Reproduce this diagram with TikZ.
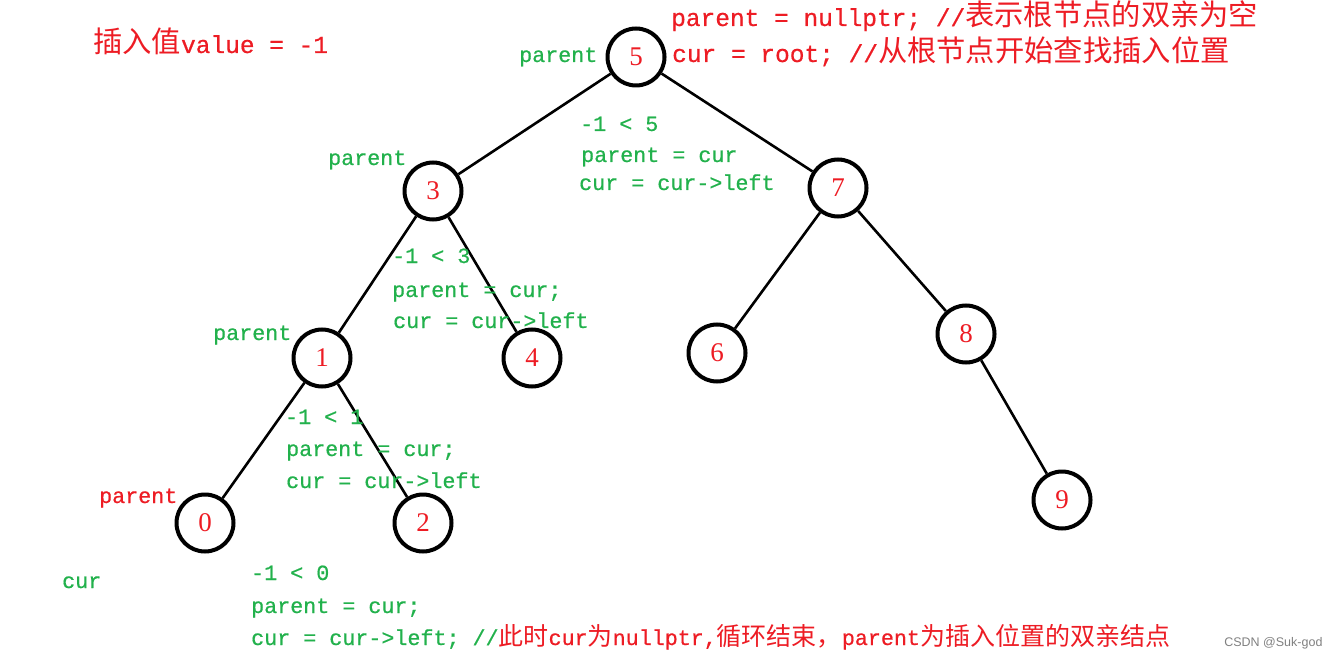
\documentclass[tikz,border=0pt]{standalone}
\usepackage{fontspec}
\setmainfont{Liberation Serif}
\newfontfamily\code[FakeBold=0.6]{Liberation Mono}
\newfontfamily\cjk{Noto Sans CJK SC}
\newfontfamily\wmark{Liberation Sans}
\definecolor{pred}{RGB}{237,28,36}
\definecolor{pgreen}{RGB}{34,177,76}
\newcommand{\zhbig}[1]{{\cjk\fontsize{29.3}{29.3}\selectfont #1}}
\newcommand{\zh}[1]{{\cjk\fontsize{25}{25}\selectfont #1}}

\begin{document}
\begin{tikzpicture}[x=1pt, y=-1pt, every edge/.style={draw, line width=2.6pt}]
        \tikzstyle{bstnode}=[circle, draw=black, line width=4pt, minimum size=57pt, inner sep=0pt, text=pred, font=\fontsize{27}{27}\selectfont]
        \tikzstyle{redtxt}=[anchor=base west, inner sep=0pt, text=pred, font=\code\fontsize{24.5}{24.5}\selectfont]
        \tikzstyle{greentxt}=[anchor=base west, inner sep=0pt, text=pgreen, font=\code\fontsize{21.7}{21.7}\selectfont]
        \useasboundingbox (0,0) rectangle (1340,660);

        % the tree
        \node[bstnode]    (n5) at (636,57)   {5};
        \node[bstnode]    (n3) at (433,191)  {3};
        \node[bstnode]    (n7) at (838,188)  {7};
        \node[bstnode]    (n1) at (322,358)  {1};
        \node[bstnode]    (n4) at (532,358)  {4};
        \node[bstnode]    (n6) at (717,353)  {6};
        \node[bstnode]    (n8) at (966,334)  {8};
        \node[bstnode]    (n0) at (205,523)  {0};
        \node[bstnode]    (n2) at (423,523)  {2};
        \node[bstnode]    (n9) at (1062,500) {9};
        \path
        (n5) edge (n3) edge (n7)
        (n3) edge (n1) edge (n4)
        (n7) edge (n6) edge (n8)
        (n1) edge (n0) edge (n2)
        (n8) edge (n9);

        % red notes
        \node[redtxt]   (value) at (93,53)  {\zhbig{插入值}value = -1};
        \node[redtxt]   (init1) at (671,26) {parent = nullptr; //\zhbig{表示根节点的双亲为空}};
        \node[redtxt]   (init2) at (672,62) {cur = root; //\zhbig{从根节点开始查找插入位置}};

        % green steps
        \node[greentxt] (par5) at (519,62)  {parent};
        \node[greentxt] (cmp5) at (580,131) {-1 < 5};
        \node[greentxt] (set5) at (581,162) {parent = cur};
        \node[greentxt] (go5)  at (579,190) {cur = cur->left};
        \node[greentxt] (par3) at (328,165) {parent};
        \node[greentxt] (cmp3) at (392,263) {-1 < 3};
        \node[greentxt] (set3) at (392,297) {parent = cur;};
        \node[greentxt] (go3)  at (393,328) {cur = cur->left};
        \node[greentxt] (par1) at (213,340) {parent};
        \node[greentxt] (cmp1) at (285,424) {-1 < 1};
        \node[greentxt] (set1) at (286,456) {parent = cur;};
        \node[greentxt] (go1)  at (286,488) {cur = cur->left};
        \node[greentxt, text=pred] (par0) at (99,503) {parent};
        \node[greentxt] (cur0) at (62,588)  {cur};
        \node[greentxt] (cmp0) at (251,580) {-1 < 0};
        \node[greentxt] (set0) at (251,613) {parent = cur;};
        \node[greentxt] (go0)  at (251,645) {cur = cur->left; //\textcolor{pred}{\zh{此时}cur\zh{为}nullptr,\zh{循环结束，}parent\zh{为插入位置的双亲结点}}};

        \node[anchor=east, text=gray, font=\wmark\fontsize{12.5}{12.5}\selectfont] (mark) at (1326,643) {CSDN @Suk-god};
\end{tikzpicture}
\end{document}
